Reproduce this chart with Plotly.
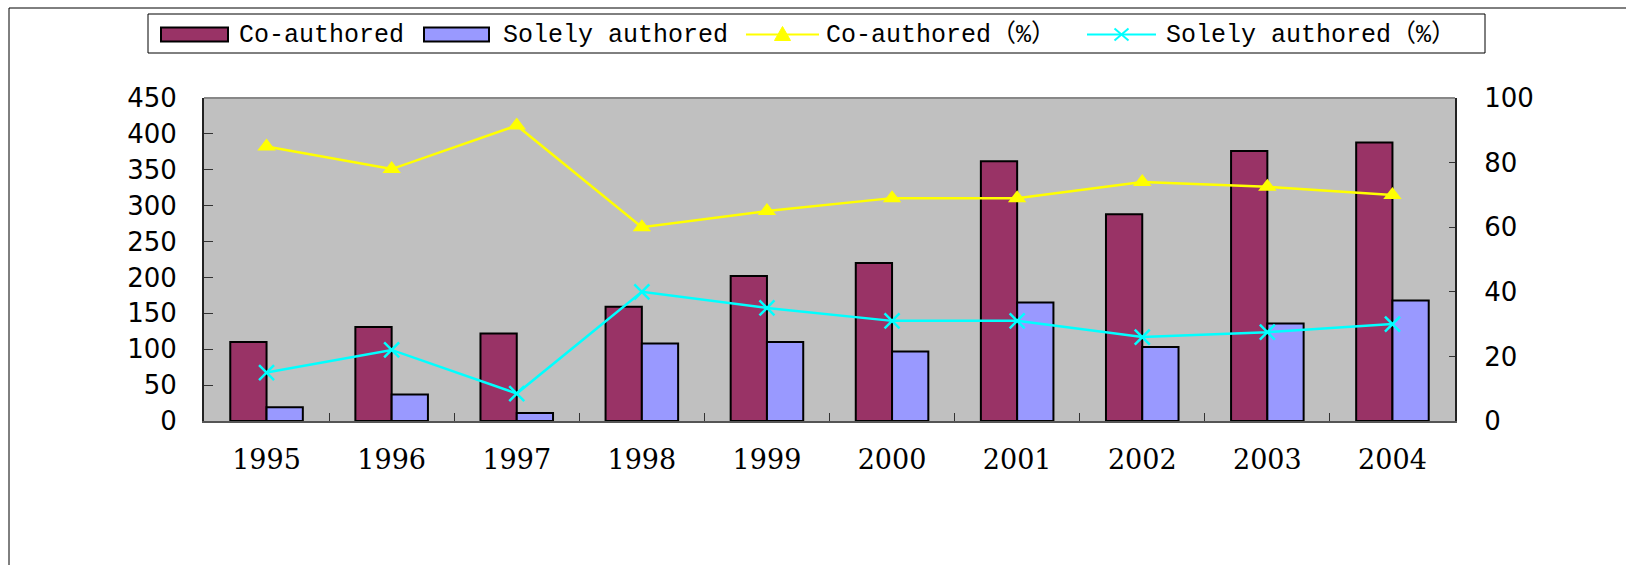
import plotly.graph_objects as go

years = ["1995", "1996", "1997", "1998", "1999", "2000", "2001", "2002", "2003", "2004"]
co_authored = [110, 131, 122, 159, 202, 220, 362, 288, 376, 388]
solely_authored = [19, 37, 11, 108, 110, 97, 165, 103, 136, 168]
co_pct = [85, 78, 91.5, 60, 65, 69, 69, 74, 72.5, 70]
solely_pct = [15, 22, 8.5, 40, 35, 31, 31, 26, 27.5, 30]
series_names = ["Co-authored", "Solely authored", "Co-authored（%）", "Solely authored（%）"]

W, H = 1626, 565
L, R, T, B = 204, 1455, 98, 421
pw = R - L
ph = B - T


def px(x):
    return (x - L) / pw


def py(y):
    return (B - y) / ph


CO_C, SO_C, Y_C, C_C = "#993366", "#9999FF", "#FFFF00", "#00FFFF"

fig = go.Figure()
fig.add_trace(go.Bar(x=years, y=co_authored, name=series_names[0],
                     marker=dict(color=CO_C, line=dict(color="black", width=2))))
fig.add_trace(go.Bar(x=years, y=solely_authored, name=series_names[1],
                     marker=dict(color=SO_C, line=dict(color="black", width=2))))
fig.add_trace(go.Scatter(x=years, y=co_pct, name=series_names[2], yaxis="y2",
                         mode="lines+markers", line=dict(color=Y_C, width=2.5),
                         marker=dict(symbol="triangle-up", size=16, color=Y_C)))
fig.add_trace(go.Scatter(x=years, y=solely_pct, name=series_names[3], yaxis="y2",
                         mode="lines+markers", line=dict(color=C_C, width=2.5),
                         marker=dict(symbol="x-thin", size=15, line=dict(color=C_C, width=2.5))))

# ---- legend drawn as a boxed row (pixel layout -> paper coords) ----
shapes = []
annotations = []
LEG_Y = 34.5
shapes.append(dict(type="rect", xref="paper", yref="paper", x0=px(148), x1=px(1485),
                   y0=py(14), y1=py(53), line=dict(color="black", width=1), fillcolor="white",
                   layer="above"))
for x0, x1, col in [(161, 228, CO_C), (424, 489, SO_C)]:
    shapes.append(dict(type="rect", xref="paper", yref="paper", x0=px(x0), x1=px(x1),
                       y0=py(27.5), y1=py(41.5), line=dict(color="black", width=2),
                       fillcolor=col, layer="above"))
for x0, x1, col in [(746, 819, Y_C), (1087, 1156, C_C)]:
    shapes.append(dict(type="line", xref="paper", yref="paper", x0=px(x0), x1=px(x1),
                       y0=py(LEG_Y), y1=py(LEG_Y), line=dict(color=col, width=2), layer="above"))
cx = 782.5
shapes.append(dict(type="path", xref="paper", yref="paper",
                   path="M {} {} L {} {} L {} {} Z".format(px(cx - 8), py(LEG_Y + 6), px(cx + 8),
                                                         py(LEG_Y + 6), px(cx), py(LEG_Y - 8)),
                   fillcolor=Y_C, line=dict(color=Y_C, width=1), layer="above"))
cx = 1121.5
for dy in (-1, 1):
    shapes.append(dict(type="line", xref="paper", yref="paper", x0=px(cx - 7), x1=px(cx + 7),
                       y0=py(LEG_Y - 6 * dy), y1=py(LEG_Y + 6 * dy),
                       line=dict(color=C_C, width=2), layer="above"))
for name, xl in zip(series_names, [237, 501, 824, 1164]):
    annotations.append(dict(text=name, xref="paper", yref="paper", x=px(xl), y=py(LEG_Y + 1),
                            xanchor="left", yanchor="middle", showarrow=False,
                            font=dict(family="Liberation Mono, Noto Sans CJK SC", size=25, color="black")))

shapes.append(dict(type="line", xref="paper", yref="paper", x0=0, x1=1, y0=1, y1=1,
                   line=dict(color="#888888", width=2)))
shapes.append(dict(type="line", xref="paper", yref="paper", x0=px(9), x1=px(1640), y0=py(8), y1=py(8),
                   line=dict(color="black", width=1)))
shapes.append(dict(type="line", xref="paper", yref="paper", x0=px(9), x1=px(9), y0=py(8), y1=py(580),
                   line=dict(color="black", width=1)))

fig.update_layout(
    width=W, height=H,
    margin=dict(l=L, r=W - R, t=T, b=H - B),
    paper_bgcolor="white", plot_bgcolor="#C0C0C0",
    barmode="group", bargap=0.42, bargroupgap=0,
    showlegend=False,
    xaxis=dict(type="category", range=[-0.5, len(years) - 0.5], showgrid=False, ticks="inside",
               ticklen=8, tickson="boundaries",
               tickcolor="#333333", showline=True, linecolor="#555555", linewidth=2,
               tickfont=dict(family="DejaVu Serif", size=27, color="black"),
               ticklabelstandoff=14),
    yaxis=dict(range=[0, 450], dtick=50, showgrid=False, zeroline=False, ticks="inside", ticklen=9,
               tickcolor="#333333", showline=True, linecolor="#222222", linewidth=2,
               tickfont=dict(family="DejaVu Sans", size=26, color="black"),
               ticklabelstandoff=20),
    yaxis2=dict(range=[0, 100], dtick=20, overlaying="y", side="right", showgrid=False, zeroline=False,
                ticks="inside", ticklen=6, tickcolor="#333333", showline=True, linecolor="#222222",
                linewidth=2, tickfont=dict(family="DejaVu Sans", size=26, color="black"),
                ticklabelstandoff=22),
    shapes=shapes,
    annotations=annotations,
)

fig.write_html("out.html", config={"displayModeBar": False},
               post_script="document.body.style.margin='0';document.body.style.overflow='hidden';")
